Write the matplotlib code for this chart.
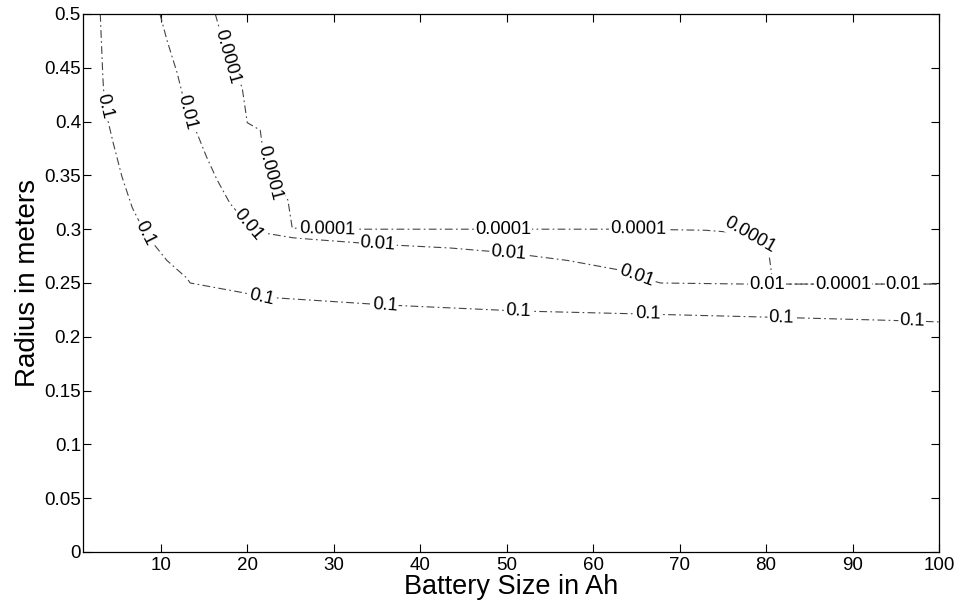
import numpy as np
import matplotlib
matplotlib.use("Agg")
import matplotlib.pyplot as plt

plt.rcParams['font.family'] = ['Liberation Sans', 'DejaVu Sans']

# contour level 0.1
ah_1 = [3.0, 3.3, 3.5, 4.5, 5.5, 6.7, 8.2, 10.7, 13.0, 13.4, 19.5, 21.7, 36.0, 51.3, 66.6, 84.0, 96.9, 100.0]
r_1 = [0.5, 0.441, 0.414, 0.38, 0.349, 0.32, 0.296, 0.271, 0.2546, 0.25, 0.241, 0.237, 0.2296, 0.224, 0.221, 0.2175, 0.2147, 0.2138]

# contour level 0.01
ah_01 = [9.9, 10.7, 11.9, 13.0, 14.2, 15.3, 16.5, 18.0, 20.1, 22.3, 25.3, 28.4, 35.1, 43.5, 50.2, 57.0, 63.1, 65.5, 67.8, 77.8, 80.1, 90.0, 100.0]
r_01 = [0.5, 0.476, 0.445, 0.409, 0.389, 0.367, 0.346, 0.324, 0.304, 0.296, 0.292, 0.290, 0.286, 0.2825, 0.278, 0.271, 0.262, 0.255, 0.250, 0.249, 0.249, 0.249, 0.249]

# contour level 0.0001
ah_0001 = [16.3, 17.7, 19.4, 20.0, 21.5, 21.7, 22.6, 24.7, 25.2, 30.0, 50.0, 65.0, 73.0, 77.8, 80.2, 80.8, 90.0, 100.0]
r_0001 = [0.5, 0.46, 0.432, 0.399, 0.392, 0.380, 0.352, 0.327, 0.301, 0.300, 0.300, 0.300, 0.299, 0.296, 0.285, 0.249, 0.249, 0.249]

# where the inline labels sit (approx, from the picture)
lab_1_x = [3.55, 8.17, 21.7, 35.9, 51.3, 66.4, 81.75, 96.9]
lab_1_y = [0.414, 0.296, 0.237, 0.229, 0.224, 0.221, 0.218, 0.2147]
lab_01_x = [13.0, 20.1, 35.1, 50.2, 65.1, 80.1, 95.9]
lab_01_y = [0.409, 0.304, 0.286, 0.278, 0.257, 0.249, 0.249]
lab_0001_x = [17.7, 22.6, 29.3, 49.6, 65.2, 78.2, 88.9]
lab_0001_y = [0.46, 0.352, 0.300, 0.300, 0.300, 0.295, 0.249]

fig = plt.figure(figsize=(9.56, 6.03), dpi=100)
ax = fig.add_axes([0.0868, 0.0846, 0.8954, 0.8922])
ax.set_xlim(1, 100)
ax.set_ylim(0, 0.5)

line_kw = dict(color='#444444', lw=0.8, dashes=(7, 3, 1.5, 3))
ax.plot(ah_1, r_1, **line_kw)
ax.plot(ah_01, r_01, **line_kw)
ax.plot(ah_0001, r_0001, **line_kw)


def label_line(xs, ys, lx, ly, text):
    pts = ax.transData.transform(np.column_stack([xs, ys]))
    p = ax.transData.transform((lx, ly))
    best = None
    for i in range(len(pts) - 1):
        a, b = pts[i], pts[i + 1]
        d = b - a
        t = np.clip(np.dot(p - a, d) / np.dot(d, d), 0, 1)
        q = a + t * d
        dist = np.linalg.norm(q - p)
        if best is None or dist < best[0]:
            best = (dist, d, q)
    ang = np.degrees(np.arctan2(best[1][1], best[1][0]))
    if ang > 90:
        ang -= 180
    if ang < -90:
        ang += 180
    qx, qy = ax.transData.inverted().transform(best[2])
    ax.text(qx, qy, text, rotation=ang, rotation_mode='anchor',
            ha='center', va='center', fontsize=13.2, zorder=5,
            bbox=dict(fc='white', ec='none', pad=0.8))


for x, y in zip(lab_1_x, lab_1_y):
    label_line(ah_1, r_1, x, y, '0.1')
for x, y in zip(lab_01_x, lab_01_y):
    label_line(ah_01, r_01, x, y, '0.01')
for x, y in zip(lab_0001_x, lab_0001_y):
    label_line(ah_0001, r_0001, x, y, '0.0001')

ax.set_xticks(np.arange(10, 101, 10))
yt = np.arange(0, 0.501, 0.05)
ax.set_yticks(yt)
ax.set_yticklabels(['0'] + ['%g' % round(v, 2) for v in yt[1:]])
ax.tick_params(direction='in', top=True, right=True, length=6, width=0.8,
               labelsize=13.5)
ax.tick_params(axis='y', pad=1.5)
for s in ax.spines.values():
    s.set_linewidth(0.9)

ax.set_xlabel('Battery Size in Ah', fontsize=19.5, labelpad=0)
ax.set_ylabel('Radius in meters', fontsize=20, labelpad=2)

fig.savefig('out.png', dpi=100)
